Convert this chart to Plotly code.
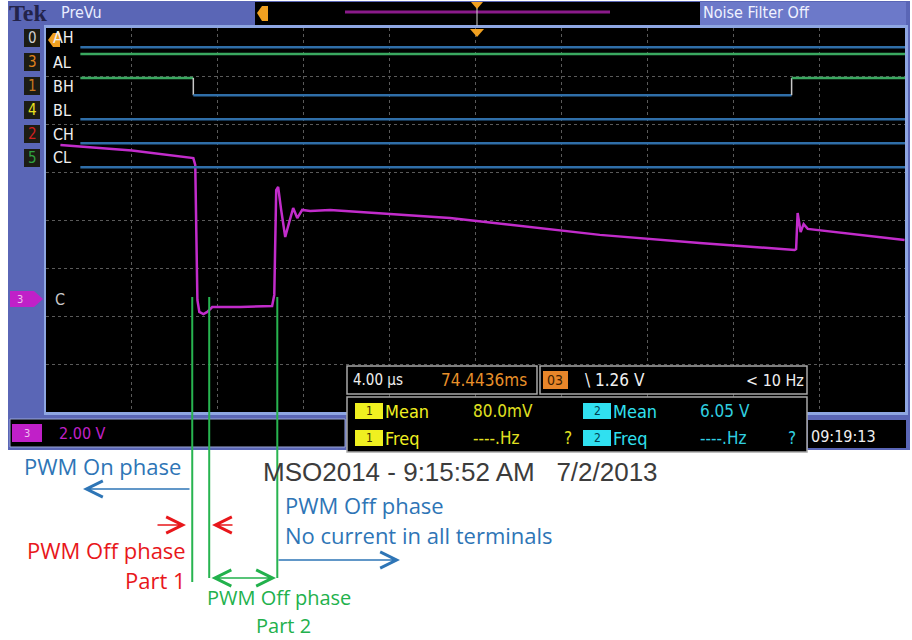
import plotly.graph_objects as go

W, H = 912, 640

# time in us relative to trigger, 4 us/div; channel C in volts (2 V/div)
c_time = [-19.33, -16.0, -13.14, -13.05, -12.95, -12.86, -12.67, -12.49, -12.26, -10.95,
          -9.47, -9.37, -9.28, -9.19, -9.05, -8.86, -8.67, -8.49, -8.30, -8.07, -7.70,
          -6.77, -1.19, 5.79, 10.44, 14.86, 14.93, 15.0, 15.14, 15.28, 15.47, 17.42, 19.98]
c_volt = [6.38, 6.15, 5.83, 5.54, -0.08, -0.58, -0.67, -0.58, -0.38, -0.38,
          -0.33, 0.13, 4.50, 4.63, 3.67, 2.54, 3.17, 3.75, 3.33, 3.67, 3.63,
          3.67, 3.33, 2.63, 2.29, 2.00, 2.04, 3.54, 2.75, 3.08, 2.88, 2.67, 2.42]

# digital channels: name, channel number, start level, transition times
dig_names = ["AH", "AL", "BH", "BL", "CH", "CL"]
dig_nums = ["0", "3", "1", "4", "2", "5"]
dig_num_colors = ["#d0d0d0", "#e0821e", "#c8781e", "#e8e020", "#d02020", "#30a040"]
dig_start = [0, 1, 1, 0, 0, 0]
dig_edges = [[], [], [-13.14, 14.72], [], [], []]
dig_t0, dig_t1 = -18.4, 20.0

# annotation markers (us)
phase_marks = [-13.19, -12.40, -9.23]


def X(px):
    return px / W


def Y(py):
    return 1 - py / H


fig = go.Figure()

# analog channel C
fig.add_trace(go.Scatter(x=c_time, y=c_volt, mode="lines",
                         line=dict(color="#c22ccb", width=2.5), hoverinfo="skip"))

# digital channels on a second axis (slot units from top)
for i, name in enumerate(dig_names):
    low = 0.4 + 0.5 * i
    high = low - 0.36
    xs, ys = [dig_t0], []
    state = dig_start[i]
    ys.append(high if state else low)
    for t in dig_edges[i]:
        xs += [t, t]
        ys += [high if state else low]
        state = 1 - state
        ys += [high if state else low]
    xs.append(dig_t1)
    ys.append(high if state else low)
    for k in range(len(xs) - 1):
        if ys[k] == ys[k + 1]:
            col = "#3aa860" if ys[k] == high else "#2f6ea8"
            fig.add_trace(go.Scatter(x=[xs[k], xs[k + 1]], y=[ys[k], ys[k + 1]], yaxis="y2",
                                     mode="lines", line=dict(color=col, width=2.5),
                                     hoverinfo="skip"))
        else:
            fig.add_trace(go.Scatter(x=[xs[k], xs[k + 1]], y=[ys[k], ys[k + 1]], yaxis="y2",
                                     mode="lines", line=dict(color="#c8c8c8", width=1.5),
                                     hoverinfo="skip"))

shapes = []
frame = "#5a66b6"
light = "#8ea6e2"


def rect(x0, x1, y0, y1, fill, line=None, layer="above"):
    shapes.append(dict(type="rect", xref="paper", yref="paper", x0=X(x0), x1=X(x1), y0=Y(y1), y1=Y(y0),
                       fillcolor=fill, line=line or dict(width=0), layer=layer))


def poly(pts, fill):
    path = "M" + " L".join(f"{X(a)},{Y(b)}" for a, b in pts) + " Z"
    shapes.append(dict(type="path", xref="paper", yref="paper", path=path,
                       fillcolor=fill, line=dict(width=0)))


# screen frame and panels
rect(8, 910, 1, 450, frame, layer="below")
rect(255, 700, 2, 25, "#000000", layer="below")
rect(700, 906, 2, 25, "#6c79c9", layer="below")
rect(44, 908, 25, 415, light, layer="below")
rect(46, 905, 28, 412, "#000000", layer="below")
rect(10, 345, 419, 447, "#000000", line=dict(color="#9aa6d8", width=1), layer="below")
rect(808, 906, 420, 448, "#000000", layer="below")
# top record bar and trigger markers
shapes.append(dict(type="line", xref="paper", yref="paper", x0=X(345), x1=X(610), y0=Y(12), y1=Y(12),
                   line=dict(color="#8a1a8a", width=3)))
shapes.append(dict(type="line", xref="paper", yref="paper", x0=X(477), x1=X(477), y0=Y(4), y1=Y(26),
                   line=dict(color="#d0d0d0", width=1)))
poly([(471, 2), (483, 2), (477, 9)], "#f0a020")
poly([(470, 29), (484, 29), (477, 37)], "#f0a020")
poly([(257, 13), (262, 6), (268, 6), (268, 21), (262, 21)], "#f0a020")
poly([(48, 40), (53, 33), (60, 33), (60, 47), (53, 47)], "#f0a020")
# channel number boxes
for i in range(len(dig_names)):
    yc = 38 + 24 * i
    rect(24, 40, yc - 9, yc + 9, "#1c1c14")
# C ground marker and scale pill
poly([(10, 291), (34, 291), (43, 299), (34, 307), (10, 307)], "#c020c8")
rect(12, 42, 424, 442, "#c020c8")
# measurement boxes
for x0, x1, y0, y1 in [(347, 537, 366, 394), (540, 807, 366, 394), (347, 807, 397, 452)]:
    rect(x0, x1, y0, y1, "#000000", line=dict(color="#a8a8a8", width=1.5))
rect(543, 568, 371, 389, "#e8862a")
for px_, col in [(369, "#f0f020"), (597, "#30e0f0")]:
    for yc in (411, 438):
        rect(px_ - 14, px_ + 14, yc - 8, yc + 8, col)

# green phase marker lines
for i, t in enumerate(phase_marks):
    shapes.append(dict(type="line", xref="x", yref="paper", x0=t, x1=t, y0=Y(297), y1=Y(582 if i == 0 else 578),
                       line=dict(color="#28b450", width=2)))

ann = []


def txt(s, x, y, color, size, xanchor="left", family="Open Sans, sans-serif", yanchor="middle"):
    ann.append(dict(text=s, x=X(x), y=Y(y), xref="paper", yref="paper",
                    xanchor=xanchor, yanchor=yanchor, showarrow=False, borderpad=0,
                    font=dict(color=color, size=size, family=family)))


osc = "DejaVu Sans Condensed, Liberation Sans Narrow, sans-serif"
txt("<b>Tek</b>", 8, 13, "#23234a", 24, family="Liberation Serif, serif")
txt("PreVu", 60, 13, "#e8ecff", 16, family=osc)
txt("Noise Filter Off", 702, 13, "#f0f2ff", 16, family=osc)
for i, name in enumerate(dig_names):
    yc = 38 + 24 * i
    txt(dig_nums[i], 32, yc, dig_num_colors[i], 15, xanchor="center", family=osc)
    txt(name, 52, yc, "#f0f0f0", 16, family=osc)
txt("C", 54, 299, "#c8c8c8", 16, family=osc)
txt("3", 20, 299, "#f0c0f0", 11, xanchor="center", family=osc)
txt("3", 27, 433, "#f0c0f0", 11, xanchor="center", family=osc)
txt("2.00 V", 58, 433, "#c020c8", 16, family=osc)
txt("4.00 µs", 352, 380, "#f0f0f0", 15, family=osc)
txt("74.4436ms", 440, 380, "#e8902a", 17, family=osc)
txt("03", 555, 380, "#402000", 14, xanchor="center", family=osc)
txt("\\ 1.26 V", 584, 380, "#f0f0f0", 17, family=osc)
txt("< 10 Hz", 745, 380, "#f0f0f0", 16, family=osc)
txt("1", 369, 411, "#403000", 12, xanchor="center", family=osc)
txt("1", 369, 438, "#403000", 12, xanchor="center", family=osc)
txt("2", 597, 411, "#004050", 12, xanchor="center", family=osc)
txt("2", 597, 438, "#004050", 12, xanchor="center", family=osc)
txt("Mean", 384, 411, "#f0f020", 18, family=osc)
txt("Freq", 384, 438, "#f0f020", 18, family=osc)
txt("80.0mV", 472, 411, "#e0e020", 17, family=osc)
txt("----.Hz", 472, 438, "#e0e020", 17, family=osc)
txt("?", 563, 438, "#e0e020", 17, family=osc)
txt("Mean", 612, 411, "#30e0f0", 18, family=osc)
txt("Freq", 612, 438, "#30e0f0", 18, family=osc)
txt("6.05 V", 699, 411, "#30d0e0", 17, family=osc)
txt("----.Hz", 699, 438, "#30d0e0", 17, family=osc)
txt("?", 787, 438, "#30d0e0", 17, family=osc)
txt("09:19:13", 810, 436, "#f0f0f0", 16, family=osc)

# caption and phase annotations
txt("MSO2014 - 9:15:52 AM   7/2/2013", 262, 472, "#3c3c3c", 26, family="Liberation Sans, Arial, sans-serif")
blue, red, green = "#2e75b6", "#e8171b", "#22b14c"
txt("PWM On phase", 23, 466, blue, 22)
txt("PWM Off phase", 284, 505, blue, 22)
txt("No current in all terminals", 284, 535, blue, 22)
txt("PWM Off phase", 187, 550, red, 22, xanchor="right")
txt("Part 1", 187, 580, red, 22, xanchor="right")
txt("PWM Off phase", 206, 597, green, 20)
txt("Part 2", 283, 640, green, 20, xanchor="center", yanchor="bottom")


def arrow(x_head, x_tail, y, color, both=False):
    ann.append(dict(x=X(x_head), y=Y(y), ax=(x_tail - x_head), ay=0, xref="paper", yref="paper",
                    axref="pixel", ayref="pixel", text="", showarrow=True,
                    arrowhead=5, startarrowhead=5, arrowsize=2, startarrowsize=2, arrowwidth=1.6,
                    arrowside="end+start" if both else "end", arrowcolor=color))


arrow(83, 191, 489, blue)
arrow(400, 277, 560, blue)
arrow(186, 156, 525, red)
arrow(212, 234, 525, red)
arrow(276, 210, 578, green, both=True)

fig.update_layout(
    width=W, height=H,
    margin=dict(l=0, r=0, t=0, b=0),
    paper_bgcolor="white", plot_bgcolor="black",
    showlegend=False,
    xaxis=dict(domain=[X(46), X(905)], range=[-20, 20], tick0=0, dtick=4,
               showgrid=True, gridcolor="#5a5a5a", griddash="dot", gridwidth=1,
               zeroline=False, showticklabels=False, ticks="", fixedrange=True),
    yaxis=dict(domain=[Y(412), Y(28)], range=[-4.75, 11.25], tick0=1.25, dtick=2,
               showgrid=True, gridcolor="#5a5a5a", griddash="dot", gridwidth=1,
               zeroline=False, showticklabels=False, ticks="", fixedrange=True),
    yaxis2=dict(domain=[Y(412), Y(28)], range=[8, 0], overlaying="y", visible=False,
                fixedrange=True),
    shapes=shapes, annotations=ann,
)

# drop the browser's default body margin so the figure fills the window
fig.write_html("out.html", config={"displayModeBar": False},
               post_script="document.body.style.margin='0px';")
